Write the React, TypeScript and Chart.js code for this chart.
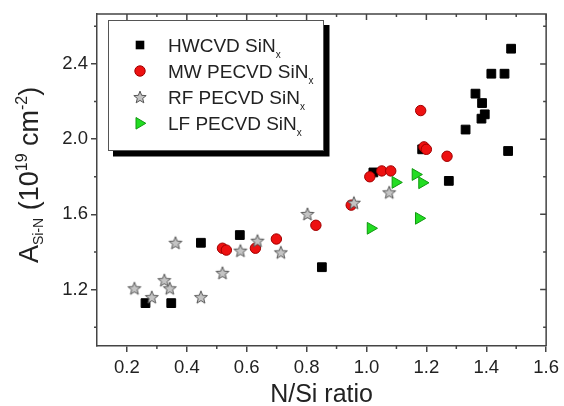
import React, { useEffect, useRef } from "react";
import { Chart, registerables } from "chart.js";
Chart.register(...registerables);

// ---- data ----
const hwX = [0.262, 0.348, 0.447, 0.577, 0.851, 1.023, 1.186, 1.275, 1.331, 1.364, 1.386, 1.395, 1.384, 1.417, 1.461, 1.483, 1.473];
const hwY = [1.128, 1.128, 1.449, 1.49, 1.319, 1.823, 1.946, 1.778, 2.051, 2.242, 2.192, 2.132, 2.109, 2.348, 2.348, 2.481, 1.937];

const mwX = [0.519, 0.532, 0.629, 0.699, 0.831, 0.949, 1.011, 1.051, 1.081, 1.181, 1.192, 1.2, 1.269];
const mwY = [1.42, 1.41, 1.42, 1.469, 1.542, 1.649, 1.8, 1.831, 1.831, 2.152, 1.959, 1.946, 1.909];

const rfX = [0.225, 0.283, 0.325, 0.343, 0.362, 0.447, 0.519, 0.579, 0.636, 0.714, 0.803, 0.958, 1.076];
const rfY = [1.207, 1.16, 1.25, 1.207, 1.449, 1.16, 1.289, 1.407, 1.46, 1.398, 1.602, 1.662, 1.717];

const lfX = [1.014, 1.097, 1.164, 1.186, 1.175];
const lfY = [1.526, 1.77, 1.812, 1.768, 1.579];

const seriesNames = ["HWCVD SiN", "MW PECVD SiN", "RF PECVD SiN", "LF PECVD SiN"];
const seriesSub = "x";

const xTicks = [0.2, 0.4, 0.6, 0.8, 1.0, 1.2, 1.4, 1.6];
const xMinor = [0.3, 0.5, 0.7, 0.9, 1.1, 1.3, 1.5];
const yTicks = [1.2, 1.6, 2.0, 2.4];
const yMinor = [1.0, 1.4, 1.8, 2.2, 2.6];
const xRange = [0.1, 1.6];
const yRange = [0.9, 2.665];

const xTitle = "N/Si ratio";

const FONT = "'Liberation Sans', Arial, Helvetica, sans-serif";
const AXIS = "#444";
const SQ_COLOR = "#000000";
const MW_FILL = "#ee1111";
const MW_EDGE = "#a00000";
const RF_FILL = "#c4c4c4";
const RF_EDGE = "#555555";
const LF_FILL = "#22dd22";
const LF_EDGE = "#119911";

function starPath(ctx: CanvasRenderingContext2D, cx: number, cy: number, R: number, r: number) {
  ctx.beginPath();
  for (let i = 0; i < 10; i++) {
    const rad = i % 2 === 0 ? R : r;
    const a = -Math.PI / 2 + (i * Math.PI) / 5;
    const px = cx + rad * Math.cos(a);
    const py = cy + rad * Math.sin(a);
    if (i === 0) ctx.moveTo(px, py);
    else ctx.lineTo(px, py);
  }
  ctx.closePath();
}

function makeStar(): HTMLCanvasElement {
  const c = document.createElement("canvas");
  c.width = 18;
  c.height = 18;
  const g = c.getContext("2d")!;
  starPath(g, 9, 9.6, 6.8, 2.9);
  g.fillStyle = RF_FILL;
  g.fill();
  g.strokeStyle = RF_EDGE;
  g.lineWidth = 1;
  g.stroke();
  return c;
}

type Piece = { t: string; size: number; dy: number };
function drawRich(ctx: CanvasRenderingContext2D, pieces: Piece[], x: number, y: number) {
  let cx = x;
  for (const p of pieces) {
    ctx.font = `${p.size}px ${FONT}`;
    ctx.fillText(p.t, cx, y + p.dy);
    cx += ctx.measureText(p.t).width;
  }
}

const decorPlugin = {
  id: "decor",
  afterDraw(chart: any) {
    const ctx: CanvasRenderingContext2D = chart.ctx;
    const { left, right, top, bottom } = chart.chartArea;
    const xs = chart.scales.x;
    const ys = chart.scales.y;
    ctx.save();
    ctx.strokeStyle = AXIS;
    ctx.lineWidth = 1.5;
    ctx.beginPath();
    ctx.moveTo(left, top);
    ctx.lineTo(right, top);
    ctx.lineTo(right, bottom);
    ctx.stroke();
    ctx.beginPath();
    for (const v of xTicks) {
      const px = xs.getPixelForValue(v);
      ctx.moveTo(px, top);
      ctx.lineTo(px, top + 6);
    }
    for (const v of xMinor) {
      const px = xs.getPixelForValue(v);
      ctx.moveTo(px, top);
      ctx.lineTo(px, top + 3);
      ctx.moveTo(px, bottom);
      ctx.lineTo(px, bottom + 3);
    }
    for (const v of yTicks) {
      const py = ys.getPixelForValue(v);
      ctx.moveTo(right, py);
      ctx.lineTo(right - 6, py);
    }
    for (const v of yMinor) {
      const py = ys.getPixelForValue(v);
      ctx.moveTo(right, py);
      ctx.lineTo(right - 3, py);
      ctx.moveTo(left, py);
      ctx.lineTo(left - 3, py);
    }
    ctx.stroke();

    // legend box with shadow
    const lx = 108, ly = 20, lw = 215, lh = 130;
    ctx.fillStyle = "#000";
    ctx.fillRect(lx + 5, ly + 5, lw + 1.5, lh + 1.5);
    ctx.fillStyle = "#fff";
    ctx.fillRect(lx, ly, lw, lh);
    ctx.lineWidth = 1;
    ctx.strokeStyle = "#555";
    ctx.strokeRect(lx + 0.5, ly + 0.5, lw, lh);

    const rows = [45, 71, 97, 123.3];
    const sx = 140;
    // square
    ctx.fillStyle = SQ_COLOR;
    ctx.fillRect(sx - 4.3, rows[0] - 4.3, 8.6, 8.6);
    // circle
    ctx.beginPath();
    ctx.arc(sx, rows[1], 5.2, 0, Math.PI * 2);
    ctx.fillStyle = MW_FILL;
    ctx.fill();
    ctx.strokeStyle = MW_EDGE;
    ctx.lineWidth = 1;
    ctx.stroke();
    // star
    starPath(ctx, sx, rows[2] + 0.6, 6.5, 2.8);
    ctx.fillStyle = RF_FILL;
    ctx.fill();
    ctx.strokeStyle = RF_EDGE;
    ctx.stroke();
    // triangle (right-pointing)
    ctx.beginPath();
    ctx.moveTo(sx - 4, rows[3] - 5.8);
    ctx.lineTo(sx + 5.8, rows[3]);
    ctx.lineTo(sx - 4, rows[3] + 5.8);
    ctx.closePath();
    ctx.fillStyle = LF_FILL;
    ctx.fill();
    ctx.strokeStyle = LF_EDGE;
    ctx.stroke();

    ctx.fillStyle = "#222";
    ctx.textAlign = "left";
    ctx.textBaseline = "alphabetic";
    seriesNames.forEach((name, i) => {
      drawRich(
        ctx,
        [
          { t: name, size: 19, dy: 0 },
          { t: seriesSub, size: 10, dy: 6 },
        ],
        168,
        rows[i] + 6.8
      );
    });

    // x title
    ctx.font = `25px ${FONT}`;
    ctx.textAlign = "center";
    ctx.fillText(xTitle, (left + right) / 2, 401.5);

    // y title (rotated)
    ctx.save();
    ctx.translate(38, 263);
    ctx.rotate(-Math.PI / 2);
    ctx.textAlign = "left";
    drawRich(
      ctx,
      [
        { t: "A", size: 27, dy: 0 },
        { t: "Si-N", size: 14, dy: 5 },
        { t: " (10", size: 27, dy: 0 },
        { t: "19", size: 16, dy: -11 },
        { t: " cm", size: 27, dy: 0 },
        { t: "-2", size: 16, dy: -11 },
        { t: ")", size: 27, dy: 0 },
      ],
      0,
      0
    );
    ctx.restore();
    ctx.restore();
  },
};

const toPts = (xs: number[], ys: number[]) => xs.map((x, i) => ({ x, y: ys[i] }));

export default function App() {
  const ref = useRef<HTMLCanvasElement | null>(null);
  useEffect(() => {
    if (!ref.current) return;
    const star = makeStar();
    const tickFont = { family: FONT, size: 18.5 };
    const chart = new Chart(ref.current, {
      type: "scatter",
      data: {
        datasets: [
          {
            label: seriesNames[0],
            data: toPts(hwX, hwY),
            pointStyle: "rect",
            pointRadius: 6.2,
            backgroundColor: SQ_COLOR,
            borderColor: SQ_COLOR,
            borderWidth: 1,
            order: 4,
          },
          {
            label: seriesNames[1],
            data: toPts(mwX, mwY),
            pointStyle: "circle",
            pointRadius: 5.2,
            backgroundColor: MW_FILL,
            borderColor: MW_EDGE,
            borderWidth: 1,
            order: 3,
          },
          {
            label: seriesNames[2],
            data: toPts(rfX, rfY),
            pointStyle: star as any,
            pointRadius: 6,
            order: 2,
          },
          {
            label: seriesNames[3],
            data: toPts(lfX, lfY),
            pointStyle: "triangle",
            rotation: 90,
            pointRadius: 6.8,
            backgroundColor: LF_FILL,
            borderColor: LF_EDGE,
            borderWidth: 1,
            order: 1,
          },
        ] as any,
      },
      options: {
        animation: false,
        responsive: false,
        devicePixelRatio: 1,
        layout: { padding: { left: 0, top: 13, right: 16, bottom: 0 } },
        plugins: { legend: { display: false }, tooltip: { enabled: false } },
        scales: {
          x: {
            type: "linear",
            min: xRange[0],
            max: xRange[1],
            afterBuildTicks: (s: any) => {
              s.ticks = xTicks.map((v) => ({ value: v }));
            },
            afterFit: (s: any) => {
              s.height = 60;
            },
            ticks: {
              callback: (v: any) => Number(v).toFixed(1),
              font: tickFont,
              color: "#222",
              padding: 5,
              maxRotation: 0,
              autoSkip: false,
            },
            grid: { drawOnChartArea: false, drawTicks: true, tickLength: 6, color: AXIS, lineWidth: 1.5 },
            border: { display: true, color: AXIS, width: 1.5 },
          },
          y: {
            type: "linear",
            min: yRange[0],
            max: yRange[1],
            afterBuildTicks: (s: any) => {
              s.ticks = yTicks.map((v) => ({ value: v }));
            },
            afterFit: (s: any) => {
              s.width = 97;
            },
            ticks: {
              callback: (v: any) => Number(v).toFixed(1),
              font: tickFont,
              color: "#222",
              padding: 3,
              autoSkip: false,
            },
            grid: { drawOnChartArea: false, drawTicks: true, tickLength: 6, color: AXIS, lineWidth: 1.5 },
            border: { display: true, color: AXIS, width: 1.5 },
          },
        },
      },
      plugins: [decorPlugin],
    } as any);
    return () => chart.destroy();
  }, []);
  return (
    <div style={{ position: "fixed", left: 0, top: 0, width: 564, height: 406, background: "#fff" }}>
      <canvas ref={ref} width={564} height={406} style={{ display: "block" }} />
    </div>
  );
}
